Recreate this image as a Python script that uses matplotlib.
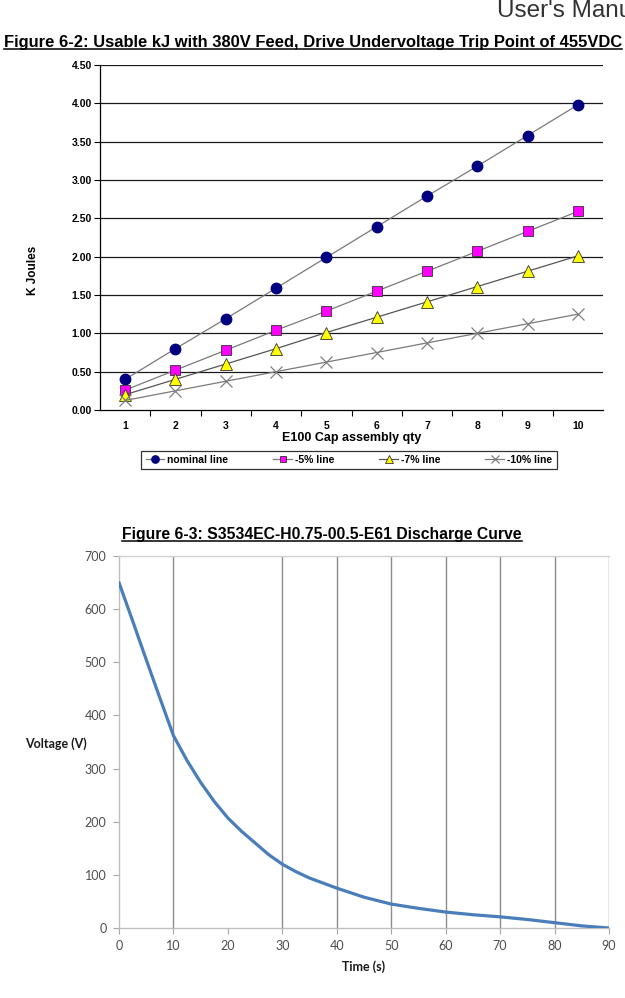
import matplotlib
matplotlib.use("Agg")
import matplotlib.pyplot as plt
from matplotlib.lines import Line2D
import numpy as np

# ---------------- data: Figure 6-2 ----------------
qty = [1, 2, 3, 4, 5, 6, 7, 8, 9, 10]
nominal = [0.40, 0.80, 1.19, 1.59, 1.99, 2.39, 2.79, 3.18, 3.58, 3.98]
minus5 = [0.26, 0.52, 0.78, 1.04, 1.29, 1.55, 1.81, 2.07, 2.33, 2.59]
minus7 = [0.20, 0.40, 0.60, 0.80, 1.01, 1.21, 1.41, 1.61, 1.81, 2.01]
minus10 = [0.125, 0.25, 0.375, 0.50, 0.625, 0.75, 0.875, 1.00, 1.125, 1.25]
series_names = ["nominal line", "-5% line", "-7% line", "-10% line"]
y1_ticks = [0.0, 0.5, 1.0, 1.5, 2.0, 2.5, 3.0, 3.5, 4.0, 4.5]

# ---------------- data: Figure 6-3 ----------------
time_s = [0, 2.5, 5, 7.5, 10, 12.5, 15, 17.5, 20, 22.5, 25, 27.5, 30, 32.5, 35,
          40, 45, 50, 55, 60, 65, 70, 75, 80, 85, 90]
voltage = [650, 578, 505, 433, 362, 315, 274, 238, 207, 182, 160, 138, 120, 106, 94,
           75, 58, 45, 37, 30, 25, 21, 16, 10, 4, 0]
x2_ticks = [0, 10, 20, 30, 40, 50, 60, 70, 80, 90]
x2_gridlines = [10, 30, 40, 50, 60, 70, 80, 90]   # the 20 s gridline is absent in the source
y2_ticks = [0, 100, 200, 300, 400, 500, 600, 700]

W, H = 625, 998
fig = plt.figure(figsize=(W / 100, H / 100), dpi=100)
fig.patch.set_facecolor("white")

narrow = ["Liberation Sans Narrow", "Liberation Sans", "DejaVu Sans"]
arial = ["Liberation Sans", "DejaVu Sans"]
calib = ["Lato", "Open Sans", "DejaVu Sans"]


def px(x, y):
    return x / W, 1 - y / H


def underlined(x, y, s, **kw):
    t = fig.text(x, y, s, **kw)
    fig.canvas.draw()
    bb = t.get_window_extent(renderer=fig.canvas.get_renderer())
    x0, x1 = bb.x0 / W, bb.x1 / W
    yl = (bb.y0 + 1.5) / H
    fig.add_artist(Line2D([x0, x1], [yl, yl], color=kw.get("color", "black"), lw=1.1))
    return t


# header (cut at page edge, as in the source page)
fig.text(*px(497, 11), "User's Manual", fontsize=17.5, color="#333333",
         family=arial, ha="left", va="center")

# ---------------- chart 1 ----------------
underlined(*px(313, 43), "Figure 6-2: Usable kJ with 380V Feed, Drive Undervoltage Trip Point of 455VDC",
           fontsize=11.9, fontweight="bold", family=arial, ha="center", va="center")

l, r, t_, b = 100, 603, 65, 410
ax1 = fig.add_axes([l / W, 1 - b / H, (r - l) / W, (b - t_) / H])
ax1.set_xlim(0.5, 10.5)
ax1.set_ylim(0, 4.5)
for v in y1_ticks[1:]:
    ax1.axhline(v, color="#1a1a1a", lw=0.9, zorder=1)
lc = "#7a7a7a"
ax1.plot(qty, nominal, color=lc, lw=0.9, marker="o", ms=7.5, mfc="#000080", mec="#000080",
         label=series_names[0], zorder=3)
ax1.plot(qty, minus5, color=lc, lw=0.9, marker="s", ms=7, mfc="#ff00ff", mec="#333333", mew=0.6,
         label=series_names[1], zorder=3)
ax1.plot(qty, minus7, color="#555555", lw=0.9, marker="^", ms=8, mfc="#ffff00", mec="#333333", mew=0.6,
         label=series_names[2], zorder=3)
ax1.plot(qty, minus10, color=lc, lw=0.9, marker="x", ms=8, mec="#808080", mew=0.9,
         label=series_names[3], zorder=3)
for s in ["top", "right"]:
    ax1.spines[s].set_visible(False)
for s in ["left", "bottom"]:
    ax1.spines[s].set_color("black")
    ax1.spines[s].set_linewidth(0.9)
ax1.set_yticks(y1_ticks)
ax1.set_yticklabels([f"{v:.2f}" for v in y1_ticks])
ax1.set_xticks(qty)
ax1.set_xticklabels([str(q) for q in qty])
ax1.set_xticks([q + 0.5 for q in qty[:-1]], minor=True)
ax1.tick_params(axis="x", which="major", length=0, pad=8)
ax1.tick_params(axis="x", which="minor", length=4, direction="out", width=0.8)
ax1.tick_params(axis="y", length=4, direction="out", width=0.8, pad=2)
for lab in ax1.get_xticklabels() + ax1.get_yticklabels():
    lab.set_family(narrow)
    lab.set_fontweight("bold")
    lab.set_fontsize(7.5)
fig.text(*px(33, 270), "K Joules", rotation=90, fontsize=8.5, fontweight="bold",
         family=narrow, ha="center", va="center")
fig.text(*px(352, 438), "E100 Cap assembly qty", fontsize=9, fontweight="bold",
         family=narrow, ha="center", va="center")
leg = ax1.legend(loc="center", bbox_to_anchor=((349 - l) / (r - l), (b - 460) / (b - t_)),
                 ncol=4, frameon=True, fancybox=False, edgecolor="black",
                 prop={"family": narrow, "weight": "bold", "size": 7.5},
                 handlelength=1.8, handletextpad=0.3, columnspacing=4.3,
                 borderpad=0.4, markerscale=0.7)
leg.get_frame().set_linewidth(0.9)

# ---------------- chart 2 ----------------
underlined(*px(322, 535), "Figure 6-3: S3534EC-H0.75-00.5-E61 Discharge Curve",
           fontsize=11.3, fontweight="bold", family=arial, ha="center", va="center")

l2, r2, t2, b2 = 119, 609, 556, 928
ax2 = fig.add_axes([l2 / W, 1 - b2 / H, (r2 - l2) / W, (b2 - t2) / H])
ax2.set_xlim(0, 90)
ax2.set_ylim(0, 700)
for v in x2_gridlines:
    ax2.axvline(v, color="#8c8c8c", lw=1.0, zorder=1)
ax2.plot(time_s, voltage, color="#4a7ebb", lw=2.3, zorder=3, solid_capstyle="round",
         solid_joinstyle="round")
ax2.spines["right"].set_visible(False)
ax2.spines["top"].set_color("#d0d0d0")
ax2.spines["left"].set_color("#bfbfbf")
ax2.spines["bottom"].set_color("#bfbfbf")
for s in ax2.spines.values():
    s.set_linewidth(1.0)
ax2.set_xticks(x2_ticks)
ax2.set_yticks(y2_ticks)
ax2.tick_params(axis="both", length=4, direction="out", color="#a6a6a6", labelcolor="#4d4d4d",
                labelsize=9, pad=5)
for lab in ax2.get_xticklabels() + ax2.get_yticklabels():
    lab.set_family(calib)
fig.text(*px(56, 744), "Voltage (V)", fontsize=9, fontweight="bold", family=calib,
         ha="center", va="center", color="#1a1a1a")
fig.text(*px(364, 967), "Time (s)", fontsize=9, fontweight="bold", family=calib,
         ha="center", va="center", color="#1a1a1a")

fig.savefig("out.png", dpi=100)
